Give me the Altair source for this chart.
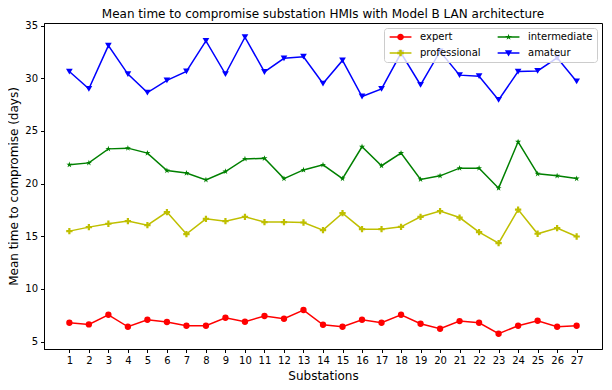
import altair as alt
import pandas as pd

substations = list(range(1, 28))

expert = [6.79, 6.63, 7.55, 6.41, 7.08, 6.86, 6.51, 6.51, 7.27, 6.89, 7.43, 7.17, 8.0, 6.6,
          6.41, 7.08, 6.79, 7.55, 6.7, 6.22, 6.95, 6.79, 5.75, 6.51, 6.98, 6.41, 6.51]
professional = [15.49, 15.87, 16.19, 16.44, 16.06, 17.3, 15.21, 16.66, 16.44, 16.85, 16.35, 16.35, 16.31, 15.59,
                17.2, 15.68, 15.68, 15.9, 16.85, 17.39, 16.78, 15.4, 14.35, 17.54, 15.24, 15.78, 14.98]
intermediate = [21.8, 21.97, 23.3, 23.37, 22.9, 21.24, 21.0, 20.36, 21.15, 22.35, 22.4, 20.48, 21.3, 21.78,
                20.48, 23.5, 21.7, 22.9, 20.4, 20.74, 21.47, 21.47, 19.57, 23.97, 20.93, 20.74, 20.48]
amateur = [30.64, 29.0, 33.1, 30.4, 28.64, 29.8, 30.65, 33.55, 30.4, 33.9, 30.6, 31.9, 32.05, 29.5,
           31.7, 28.27, 29.0, 32.4, 29.37, 32.55, 30.3, 30.2, 27.95, 30.64, 30.7, 31.95, 29.7]

series_names = ["expert", "professional", "intermediate", "amateur"]
series_values = [expert, professional, intermediate, amateur]
colors = ["#ff0000", "#bfbf00", "#008000", "#0000ff"]
star = ("M0,-1L0.2245,-0.309L0.951,-0.309L0.363,0.118L0.588,0.809L0,0.382"
        "L-0.588,0.809L-0.363,0.118L-0.951,-0.309L-0.2245,-0.309Z")
plus = "M-0.35,-1H0.35V-0.35H1V0.35H0.35V1H-0.35V0.35H-1V-0.35H-0.35Z"
shapes = ["circle", plus, star, "triangle-down"]
sizes = [40, 40, 40, 45]
y_ticks = [5, 10, 15, 20, 25, 30, 35]

# legend symbols: a short line with the marker in the middle (matplotlib style)
leg_line = "M-1,-0.22H5.5V0.22H-1Z"
leg_paths = [
    leg_line + "M3.25,0A1,1,0,1,1,1.25,0A1,1,0,1,1,3.25,0Z",
    leg_line + "M1.9,-1H2.6V-0.35H3.25V0.35H2.6V1H1.9V0.35H1.25V-0.35H1.9Z",
    leg_line + ("M2.25,-1L2.47,-0.31L3.2,-0.31L2.61,0.12L2.84,0.81L2.25,0.38"
                "L1.66,0.81L1.89,0.12L1.3,-0.31L2.03,-0.31Z"),
    leg_line + "M1.15,-0.85L3.35,-0.85L2.25,1.05Z",
]

rows = []
for name, vals in zip(series_names, series_values):
    for s, v in zip(substations, vals):
        rows.append({"substation": s, "value": v, "series": name})
df = pd.DataFrame(rows)

x = alt.X("substation:Q",
          scale=alt.Scale(domain=[-0.3, 28.3], nice=False, zero=False),
          axis=alt.Axis(values=substations, title="Substations", labelFlush=False,
                        titlePadding=5))
y = alt.Y("value:Q",
          scale=alt.Scale(domain=[4.3, 35.25], nice=False, zero=False),
          axis=alt.Axis(values=y_ticks, title="Mean time to compromise (days)",
                        titlePadding=4))

legend = alt.Legend(
    title=None, orient="top-right", columns=2, offset=5,
    labelFontSize=10, symbolSize=45, columnPadding=15, rowPadding=6,
    padding=4, strokeColor="#cccccc", fillColor="rgba(255,255,255,0.8)", cornerRadius=3,
    labelOffset=22, symbolOpacity=1, symbolStrokeWidth=0,
)

color = alt.Color("series:N", scale=alt.Scale(domain=series_names, range=colors), legend=legend)

lines = alt.Chart(df).mark_line(strokeWidth=1.5).encode(
    x=x, y=y, color=color, detail="series:N"
)

point_layers = []
for name, shp, sz in zip(series_names, shapes, sizes):
    point_layers.append(
        alt.Chart(df).transform_filter(alt.datum.series == name)
        .mark_point(filled=True, opacity=1, shape=shp, size=sz)
        .encode(x=x, y=y, color=color)
    )

legend_layer = alt.Chart(df).mark_point(filled=True, opacity=0, size=45).encode(
    x=x, y=y, color=color,
    shape=alt.Shape("series:N", scale=alt.Scale(domain=series_names, range=leg_paths), legend=legend),
)

chart = alt.layer(lines, *point_layers, legend_layer).properties(
    width=558, height=326,
    title=alt.TitleParams("Mean time to compromise substation HMIs with Model B LAN architecture",
                          fontSize=12, fontWeight="normal", offset=0, color="black"),
    autosize=alt.AutoSizeParams(type="none"),
    padding={"left": 36, "top": 15, "right": 2, "bottom": 40},
).configure(font="DejaVu Sans").configure_view(
    stroke="black", strokeWidth=1
).configure_axis(
    grid=False, domainColor="black", tickColor="black", tickSize=3.5,
    labelFontSize=10, labelColor="black", titleFontSize=12, titleFontWeight="normal",
    titleColor="black", labelPadding=3
)

chart.save("out.html", embed_options={"renderer": "svg", "actions": False})
